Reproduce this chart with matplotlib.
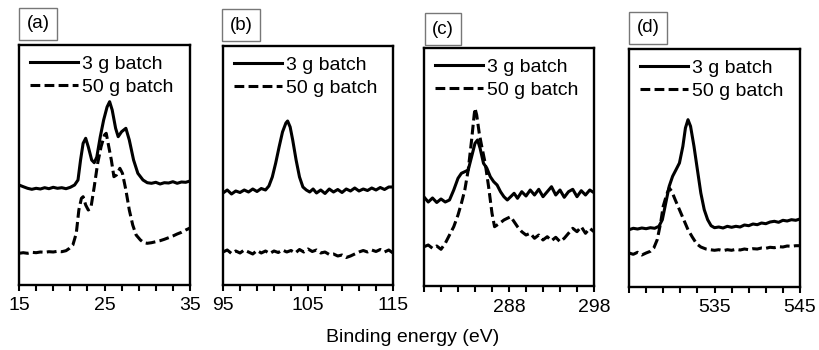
import matplotlib
matplotlib.use("Agg")
import matplotlib.pyplot as plt

plt.rcParams['font.family'] = ['Liberation Sans', 'DejaVu Sans']

## XPS spectra (intensity in arbitrary units)
# (a) 15-35 eV
a_x_3g = [15, 15.5, 16, 16.5, 17, 17.5, 18, 18.5, 19, 19.5, 20, 20.5, 21, 21.5, 21.9,
          22.2, 22.5, 22.8, 23.1, 23.5, 23.8, 24.1, 24.5, 24.9, 25.3, 25.6, 25.9, 26.3,
          26.6, 27.0, 27.5, 27.9, 28.4, 28.9, 29.5, 30, 30.5, 31, 31.5, 32, 32.5, 33,
          33.5, 34, 34.5, 35]
a_y_3g = [100, 98.3, 96.7, 95.7, 96.7, 96, 97.3, 96.3, 97.7, 96.7, 97.3, 96.3, 97.7, 100, 105,
          125, 141.7, 146.7, 138.3, 125, 122.3, 128, 148, 165, 178, 183.3, 175, 156.7,
          148.3, 153.3, 156.7, 145, 125, 111.7, 105, 102.3, 101.7, 102.7, 101, 102.3, 102, 103.3,
          101.7, 103, 102.7, 104]
a_x_50g = [15, 15.5, 16, 16.5, 17, 17.5, 18, 18.5, 19, 19.5, 20, 20.5, 20.9, 21.3, 21.7,
           22.0, 22.3, 22.5, 22.8, 23.1, 23.4, 23.8, 24.2, 24.6, 25.0, 25.2, 25.5, 25.8,
           26.1, 26.4, 26.8, 27.1, 27.5, 27.9, 28.3, 28.7, 29.2, 29.6, 30.0, 30.5, 31,
           31.5, 32, 32.5, 33, 33.5, 34, 34.5, 35]
a_y_50g = [31.7, 32.3, 31.7, 32.7, 32.3, 33, 32.7, 33.3, 33, 33.7, 33.3, 34.3, 36.7, 40, 51.7,
           75, 86.7, 88.3, 80, 75, 76.7, 98.3, 121.7, 138.3, 150, 151.7, 138.3, 125,
           108.3, 110, 116.7, 111.7, 95, 75, 60, 50, 45, 42.3, 41.7, 42.3, 43.3,
           44.3, 45.7, 47.3, 49, 51, 52.7, 55, 57]

# (b) 95-115 eV
b_x_3g = [95, 95.5, 96, 96.5, 97, 97.5, 98, 98.5, 99, 99.5, 100, 100.4, 100.8, 101.2, 101.6,
          102.0, 102.4, 102.6, 102.9, 103.2, 103.6, 104.0, 104.4, 104.8, 105.2, 105.6, 106,
          106.5, 107, 107.5, 108, 108.5, 109, 109.5, 110, 110.5, 111, 111.5, 112, 112.5,
          113, 113.5, 114, 114.5, 115]
b_y_3g = [92, 95, 91, 94, 92.5, 95, 93, 96, 93.5, 96.5, 95, 99, 108, 122, 138,
          153, 162, 164, 158, 145, 125, 108, 98, 95, 93, 96, 92,
          95, 91.5, 96, 93, 95.5, 92.5, 96, 94, 97, 94, 96, 94.5, 97,
          95, 97.5, 95.5, 98, 98]
b_x_50g = [95, 95.5, 96, 96.5, 97, 97.5, 98, 98.5, 99, 99.5, 100, 100.5, 101, 101.5, 102,
           102.5, 103, 103.5, 104, 104.5, 105, 105.5, 106, 106.5, 107, 107.5, 108, 108.5,
           109, 109.5, 110, 110.5, 111, 111.5, 112, 112.5, 113, 113.5, 114, 114.5, 115]
b_y_50g = [33, 35, 31.5, 34, 32, 35, 33, 31, 34.5, 32, 34, 31.5, 34, 32.5, 35,
           33, 34.5, 32, 35.5, 33, 36, 33.5, 35, 32, 33, 30.5, 31, 29,
           30, 27.5, 29, 31, 33, 34.5, 33, 35, 33.5, 35.5, 33, 35, 32]

# (c) 278-298 eV
c_x_3g = [278, 278.5, 279, 279.5, 280, 280.5, 281, 281.5, 282, 282.4, 282.8, 283.2, 283.6,
          284.0, 284.3, 284.6, 285.0, 285.4, 285.8, 286.2, 286.6, 287.0, 287.4, 287.8,
          288.2, 288.6, 289, 289.5, 290, 290.5, 291, 291.5, 292, 292.5, 293, 293.5, 294,
          294.5, 295, 295.5, 296, 296.5, 297, 297.5, 298]
c_y_3g = [89, 84, 88, 83.5, 87, 84, 86, 96, 107.7, 112.7, 114.3, 116, 129.3,
          142.7, 146, 137.7, 122.7, 117.7, 109.3, 104.3, 101, 94.3, 89.3, 86,
          89.3, 92.7, 87.7, 94.3, 90, 96, 91, 96.7, 89.3, 94.3, 99.3, 91, 96,
          88.7, 94.3, 96.7, 89.3, 95.3, 91, 96, 93.3]
c_x_50g = [278, 278.5, 279, 279.5, 280, 280.5, 281, 281.5, 282, 282.4, 282.8, 283.2, 283.6,
           283.9, 284.0, 284.2, 284.5, 284.8, 285.2, 285.6, 286.0, 286.3, 286.6, 287.0,
           287.4, 287.8, 288.2, 288.6, 289.0, 289.5, 290, 290.5, 291, 291.5, 292, 292.5,
           293, 293.5, 294, 294.5, 295, 295.5, 296, 296.5, 297, 297.5, 298]
c_y_50g = [39.3, 41, 37.7, 40, 36.7, 42.7, 51, 59.3, 71, 82.7, 96, 116, 146,
           171, 177.7, 171, 152.7, 139.3, 122.7, 99.3, 72.7, 59.3, 61, 63.3,
           66, 67.7, 69.3, 64.3, 59.3, 54.3, 51, 52.7, 47.7, 51, 46, 49.3,
           45.3, 48.7, 44.3, 47.7, 52.7, 57.7, 54.3, 59.3, 52.7, 57.7, 54.3]

# (d) 525-545 eV
d_x_3g = [525, 525.5, 526, 526.5, 527, 527.5, 528, 528.5, 528.9, 529.3, 529.7, 530.1, 530.5,
          530.9, 531.3, 531.6, 531.9, 532.2, 532.6, 533.0, 533.4, 533.8, 534.2, 534.6, 535,
          535.5, 536, 536.5, 537, 537.5, 538, 538.5, 539, 539.5, 540, 540.5, 541, 541.5,
          542, 542.5, 543, 543.5, 544, 544.5, 545]
d_y_3g = [57.3, 58.7, 58, 59, 58.3, 59.3, 58.7, 60.7, 67.3, 84, 100.7, 110.7, 117.3,
          124, 140.7, 159, 167.3, 160.7, 140.7, 117.3, 94, 77.3, 67.3, 61.3, 59.3,
          60, 59, 60.7, 59.7, 60.7, 60, 62, 61.3, 63, 62.3, 64, 63.3, 65,
          65.7, 64.7, 66.7, 66, 67.3, 66.7, 68]
d_x_50g = [525, 525.5, 526, 526.5, 527, 527.5, 527.9, 528.3, 528.7, 529.0, 529.4, 529.7,
           530.0, 530.4, 530.9, 531.4, 531.9, 532.4, 532.9, 533.4, 534, 534.5, 535, 535.5,
           536, 536.5, 537, 537.5, 538, 538.5, 539, 539.5, 540, 540.5, 541, 541.5, 542,
           542.5, 543, 543.5, 544, 544.5, 545]
d_y_50g = [34, 32.7, 34.7, 32, 34, 35.7, 39, 47.3, 64, 80.7, 92.3, 99,
           95.7, 87.3, 77.3, 67.3, 57.3, 50, 43.3, 40, 38, 37.3, 36.7, 37.3,
           36.3, 37.3, 36.7, 37.7, 37, 38, 37.3, 38.3, 38, 39, 38.7, 39.7, 39.3,
           40.3, 40, 41, 40.7, 41.3, 41.3]

panel_tags = ['(a)', '(b)', '(c)', '(d)']
x_ranges = [(15, 35), (95, 115), (278, 298), (525, 545)]
tick_labels = [[15, 25, 35], [95, 105, 115], [288, 298], [535, 545]]
series = [(a_x_3g, a_y_3g, a_x_50g, a_y_50g),
          (b_x_3g, b_y_3g, b_x_50g, b_y_50g),
          (c_x_3g, c_y_3g, c_x_50g, c_y_50g),
          (d_x_3g, d_y_3g, d_x_50g, d_y_50g)]

W, H = 819, 350
fig = plt.figure(figsize=(W / 100, H / 100), dpi=100)

# panel boxes in pixels: left, top, right, bottom
boxes = [(19, 45, 190, 285), (223, 46, 393, 285), (424, 48, 594, 286), (629, 49, 800, 287)]
tag_pos = [(38, 24), (241, 25), (443, 29), (648, 28)]

for i in range(4):
    l, t, r, b = boxes[i]
    ax = fig.add_axes([l / W, 1 - b / H, (r - l) / W, (b - t) / H])
    x3, y3, x50, y50 = series[i]
    ax.plot(x3, y3, color='black', lw=2.2, label='3 g batch')
    ax.plot(x50, y50, color='black', lw=2.2, ls='--', dashes=(3.2, 1.4), label='50 g batch')
    lo, hi = x_ranges[i]
    ax.set_xlim(lo, hi)
    ax.set_ylim(0, b - t)
    ticks = list(range(lo, hi + 1, 2))
    ax.set_xticks(ticks)
    ax.set_xticklabels([str(v) if v in tick_labels[i] else '' for v in ticks])
    ax.set_yticks([])
    ax.tick_params(axis='x', direction='out', length=4, width=1.5, pad=5, labelsize=14)
    for s in ax.spines.values():
        s.set_linewidth(1.7)
    ax.legend(loc='upper left', frameon=False, fontsize=14, handlelength=2.5,
              handletextpad=0.2, labelspacing=0.25, borderpad=0.25, borderaxespad=0.3)
    fig.text(tag_pos[i][0] / W, 1 - tag_pos[i][1] / H, panel_tags[i], fontsize=13.5,
             ha='center', va='center',
             bbox=dict(boxstyle='square,pad=0.4', fc='white', ec='#777777', lw=1))

fig.text(413 / W, 1 - 337 / H, 'Binding energy (eV)', fontsize=14, ha='center', va='center')

fig.savefig('out.png', dpi=100)
